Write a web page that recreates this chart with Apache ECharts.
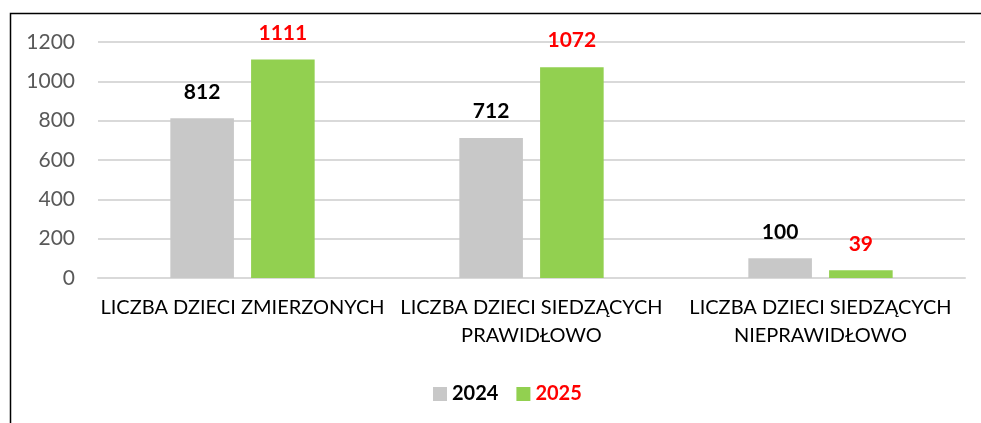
<!DOCTYPE html>
<html><head><meta charset="utf-8">
<script src="https://cdn.jsdelivr.net/npm/echarts@6/dist/echarts.min.js"></script>
<style>html,body{margin:0;padding:0;background:#fff}#c{width:981px;height:423px}</style>
</head><body><div id="c"></div>
<script>
const categories = ['LICZBA DZIECI ZMIERZONYCH', 'LICZBA DZIECI SIEDZĄCYCH\nPRAWIDŁOWO', 'LICZBA DZIECI SIEDZĄCYCH\nNIEPRAWIDŁOWO'];
const values2024 = [812, 712, 100];
const values2025 = [1111, 1072, 39];
const yTicks = [0, 200, 400, 600, 800, 1000, 1200];
const font = 'Lato, "Open Sans", sans-serif';
const chart = echarts.init(document.getElementById('c'));
chart.setOption({
  animation: false,
  textStyle: {fontFamily: font},
  graphic: [{type: 'polyline', shape: {points: [[10.5, 423], [10.5, 13.5], [981, 13.5]]}, style: {stroke: '#000', lineWidth: 1.5, fill: null}}],
  grid: {left: 98, right: 16, top: 42, bottom: 145},
  legend: {
    bottom: 14, left: 428, itemWidth: 14, itemHeight: 14, itemGap: 18,
    icon: 'rect',
    data: [{name: '2024', textStyle: {color: '#000'}}, {name: '2025', textStyle: {color: '#ff0000'}}],
    textStyle: {fontSize: 20, fontWeight: 'bold', fontFamily: font}
  },
  xAxis: {
    type: 'category', data: categories,
    axisLine: {lineStyle: {color: '#d9d9d9', width: 2}},
    axisTick: {show: false},
    axisLabel: {color: '#000', fontSize: 20, lineHeight: 28, margin: 16, interval: 0, fontFamily: font}
  },
  yAxis: {
    type: 'value', min: yTicks[0], max: yTicks[yTicks.length - 1], interval: 200,
    axisLine: {show: false}, axisTick: {show: false},
    splitLine: {lineStyle: {color: '#d9d9d9', width: 2}},
    axisLabel: {color: '#595959', fontSize: 21, margin: 23, fontFamily: font, formatter: v => String(v)}
  },
  series: [
    {name: '2024', type: 'bar', data: values2024, barWidth: '22%', barGap: '27%',
     itemStyle: {color: '#c8c8c8'},
     label: {show: true, position: 'top', distance: 16, color: '#000', fontSize: 21, fontWeight: 'bold', fontFamily: font}},
    {name: '2025', type: 'bar', data: values2025, barWidth: '22%',
     itemStyle: {color: '#92d050'},
     label: {show: true, position: 'top', distance: 16, color: '#ff0000', fontSize: 21, fontWeight: 'bold', fontFamily: font}}
  ]
});
</script></body></html>
